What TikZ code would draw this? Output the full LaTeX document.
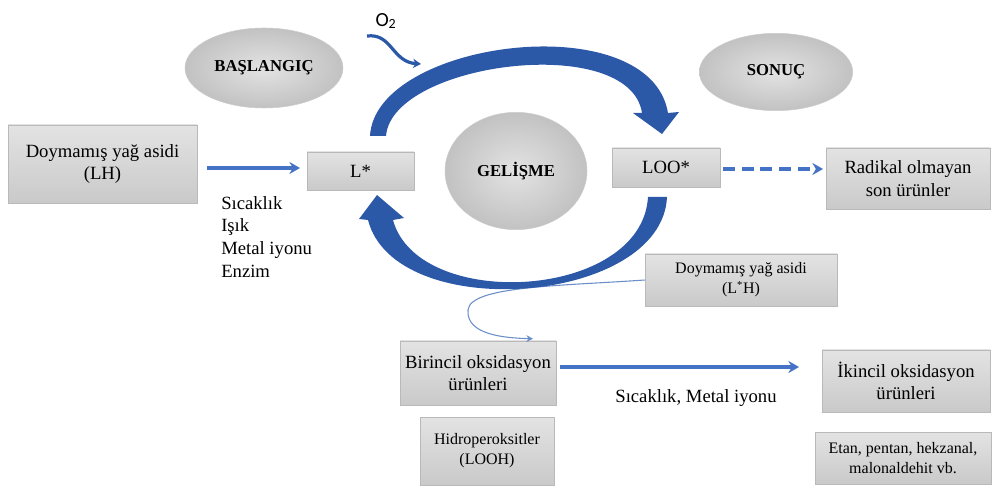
\documentclass[tikz,border=0pt]{standalone}
\usepackage{fontspec}
\setmainfont{Liberation Serif}
\newfontfamily\oxyfont{Carlito}
\usetikzlibrary{arrows.meta,positioning,calc,shapes.geometric}
\definecolor{loopblue}{RGB}{44,88,168}
\definecolor{flow}{RGB}{68,114,196}
\definecolor{thinblue}{RGB}{105,142,200}
\definecolor{edge}{RGB}{185,185,185}

\begin{document}
\begin{tikzpicture}[x=0.75pt,y=-0.75pt,>=Stealth,font=\fontsize{14}{17}\selectfont]
\tikzset{box/.style={draw=edge,top color=gray!22,bottom color=gray!42,align=center,inner sep=2pt},
  small/.style={box,font=\fontsize{12}{15}\selectfont},
  stage/.style={ellipse,draw=gray!40,inner color=gray!22,outer color=gray!48,inner sep=0pt,font=\bfseries\fontsize{12.5}{15}\selectfont},
  arr/.style={draw=flow,line width=2.3pt,-{Stealth[length=8pt,width=9pt]}},
  wide/.style={fill=loopblue,draw=none}}
\useasboundingbox (0,0) rectangle (993,488);
% stages
\node[stage,minimum width=118.5pt,minimum height=60pt] (bas) at (264,68) {BAŞLANGIÇ};
\node[stage,minimum width=115pt,minimum height=58pt] (son) at (776,72) {SONUÇ};
\node[stage,minimum width=106.5pt,minimum height=88pt] (gel) at (516,171) {GELİŞME};
% boxes
\node[box,minimum width=141.75pt,minimum height=58.5pt] (lh) at (102.5,164) {Doymamış yağ asidi\\(LH)};
\node[box,minimum width=80.25pt,minimum height=28.5pt] (lst) at (360.5,171) {L*};
\node[box,minimum width=81pt,minimum height=29.25pt] (loo) at (666,167.5) {LOO*};
\node[box,minimum width=123pt,minimum height=45.75pt] (rad) at (908,178.5) {Radikal olmayan\\son ürünler};
\node[small,minimum width=144pt,minimum height=39pt] (lah) at (741,280) {Doymamış yağ asidi\\(L\textsuperscript{*}H)};
\node[box,minimum width=117pt,minimum height=48pt] (bir) at (478,373) {Birincil oksidasyon\\ürünleri};
\node[small,minimum width=100.5pt,minimum height=51pt] (hid) at (487,451) {Hidroperoksitler\\(LOOH)};
\node[box,minimum width=126pt,minimum height=46.5pt] (iki) at (906,381) {İkincil oksidasyon\\ürünleri};
\node[small,minimum width=132pt,minimum height=39pt] (etan) at (903,458) {Etan, pentan, hekzanal,\\malonaldehit vb.};
% labels
\node[align=left,anchor=north west,inner sep=0pt] (kosul) at (221,196) {Sıcaklık\\Işık\\Metal iyonu\\Enzim};
\node (kosul2) at (696,398) {Sıcaklık, Metal iyonu};
\node[font=\oxyfont\fontsize{15}{18}\selectfont] (oxy) at (386,21) {O\textsubscript{2}};
\coordinate (o2s) at (367,36);
\coordinate (o2e) at (421,64);
% thin return line
\draw[thinblue,line width=0.8pt,-{Stealth[length=5pt,width=5pt]}] (lah.west) .. controls (560,286) and (470,286) .. (468,310) .. controls (466,335) and (505,338) .. ($(bir.north)+(55,-2)$);
% propagation loop
\fill[wide] (370,136) .. controls (375,40) and (650,5) .. (668,113) -- (679,112) -- (662,134) -- (633,113) -- (642,113) .. controls (630,32) and (392,62) .. (386,136) -- cycle;
\fill[wide] (648,197) -- (667,197) .. controls (662,305) and (395,325) .. (368,220) -- (359,219) -- (377,195) -- (404,218) -- (393,220) .. controls (418,312) and (642,300) .. (648,197) -- cycle;
% arrows
\draw[loopblue,line width=2.4pt,-{Stealth[length=6pt,width=7pt]}] (o2s) .. controls (392,33) and (392,62) .. (o2e);
\draw[arr,shorten <=7pt,shorten >=5pt] (lh.east |- 0,168) -- (lst.west |- 0,168);
\draw[arr,dash pattern=on 9pt off 5pt,shorten <=2pt,shorten >=2pt] (loo.east |- 0,169) -- (rad.west |- 0,169);
\draw[arr,shorten <=3pt,shorten >=17pt] (bir.east |- 0,367) -- (iki.west |- 0,367);
\end{tikzpicture}
\end{document}
